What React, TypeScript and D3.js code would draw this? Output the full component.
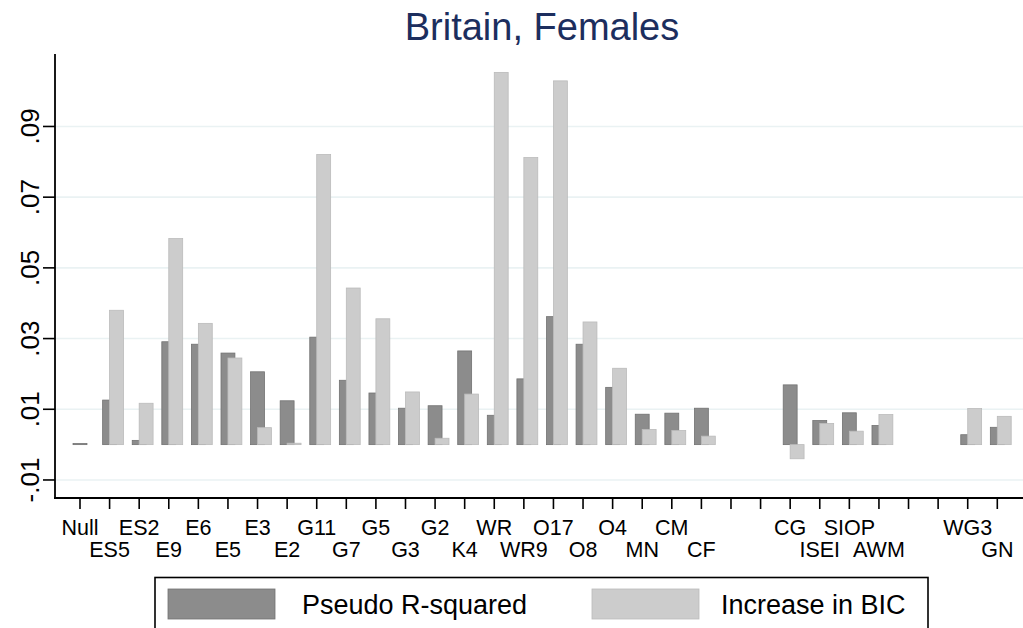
import React, { useRef, useEffect } from 'react';
import * as d3 from 'd3';

// model labels along the x axis ('' = empty slot)
const categories = [
  'Null', 'ES5', 'ES2', 'E9', 'E6', 'E5', 'E3', 'E2', 'G11', 'G7', 'G5', 'G3', 'G2', 'K4',
  'WR', 'WR9', 'O17', 'O8', 'O4', 'MN', 'CM', 'CF', '', '', 'CG', 'ISEI', 'SIOP', 'AWM',
  '', '', 'WG3', 'GN',
];

const pseudoR2: (number | null)[] = [
  0.0003, 0.0126, 0.0012, 0.0291, 0.0284, 0.0259, 0.0206, 0.0124, 0.0304, 0.0182, 0.0146,
  0.0103, 0.0110, 0.0265, 0.0083, 0.0186, 0.0362, 0.0284, 0.0162, 0.0086, 0.0089, 0.0103,
  null, null, 0.0169, 0.0068, 0.0090, 0.0054, null, null, 0.0028, 0.0049,
];

const bicIncrease: (number | null)[] = [
  0, 0.0380, 0.0117, 0.0583, 0.0343, 0.0245, 0.0048, 0.0004, 0.0821, 0.0443, 0.0356,
  0.0149, 0.0018, 0.0143, 0.1053, 0.0812, 0.1029, 0.0347, 0.0216, 0.0043, 0.0040, 0.0024,
  null, null, -0.0040, 0.0060, 0.0038, 0.0085, null, null, 0.0102, 0.0080,
];

const yTicks = [-0.01, 0.01, 0.03, 0.05, 0.07, 0.09];
const yTickLabels = ['-.01', '.01', '.03', '.05', '.07', '.09'];

const seriesNames = ['Pseudo R-squared', 'Increase in BIC'];

const DARK = '#8c8c8c';
const DARK_EDGE = '#727272';
const LIGHT = '#cccccc';
const LIGHT_EDGE = '#bbbbbb';
const FONT = '"Liberation Sans", Arial, Helvetica, sans-serif';

const App: React.FC = () => {
  const svgRef = useRef<SVGSVGElement | null>(null);

  useEffect(() => {
    if (!svgRef.current) return;
    const width = 1023;
    const height = 628;
    const plot = { left: 55, right: 1023, top: 54, bottom: 498 };

    d3.select(svgRef.current).selectAll('*').remove();
    const svg = d3.select(svgRef.current).attr('width', width).attr('height', height);

    svg.append('rect').attr('width', width).attr('height', height).attr('fill', '#ffffff');

    const idx = categories.map((_, i) => String(i));
    const x = d3.scalePoint<string>().domain(idx).range([80, 997.3]);
    const y = d3.scaleLinear().domain([-0.0151, 0.1105]).range([plot.bottom, plot.top]);
    const bw = x.step() * 0.47;

    // Title
    svg.append('text')
      .attr('x', 542)
      .attr('y', 40)
      .attr('text-anchor', 'middle')
      .attr('font-family', FONT)
      .attr('font-size', '38px')
      .attr('fill', '#1c2e5e')
      .text('Britain, Females');

    // Grid lines
    svg.append('g')
      .selectAll('line')
      .data(yTicks)
      .enter()
      .append('line')
      .attr('x1', plot.left)
      .attr('x2', plot.right)
      .attr('y1', d => y(d))
      .attr('y2', d => y(d))
      .attr('stroke', '#eaf2f3')
      .attr('stroke-width', 1.6);

    const rows = categories.map((c, i) => ({ c, i, r: pseudoR2[i], b: bicIncrease[i] }));

    // Pseudo R-squared bars (centred on tick)
    svg.append('g')
      .selectAll('rect')
      .data(rows.filter(d => d.r !== null))
      .enter()
      .append('rect')
      .attr('x', d => (x(String(d.i)) || 0) - bw / 2)
      .attr('width', bw)
      .attr('y', d => y(Math.max(0, d.r as number)))
      .attr('height', d => Math.max(0.8, Math.abs(y(d.r as number) - y(0))))
      .attr('fill', DARK)
      .attr('stroke', DARK_EDGE)
      .attr('stroke-width', 0.8);

    // Increase in BIC bars (shifted half a bar right, overlapping)
    svg.append('g')
      .selectAll('rect')
      .data(rows.filter(d => d.b !== null && d.b !== 0))
      .enter()
      .append('rect')
      .attr('x', d => x(String(d.i)) || 0)
      .attr('width', bw)
      .attr('y', d => y(Math.max(0, d.b as number)))
      .attr('height', d => Math.max(0.8, Math.abs(y(d.b as number) - y(0))))
      .attr('fill', LIGHT)
      .attr('stroke', LIGHT_EDGE)
      .attr('stroke-width', 0.8);

    // Y axis
    const yAxis = svg.append('g');
    yAxis.append('line')
      .attr('x1', plot.left).attr('x2', plot.left)
      .attr('y1', plot.top).attr('y2', plot.bottom)
      .attr('stroke', '#000').attr('stroke-width', 1.8);
    yTicks.forEach((t, i) => {
      yAxis.append('line')
        .attr('x1', plot.left - 12).attr('x2', plot.left)
        .attr('y1', y(t)).attr('y2', y(t))
        .attr('stroke', '#000').attr('stroke-width', 1.6);
      yAxis.append('text')
        .attr('transform', `translate(39,${y(t)}) rotate(-90)`)
        .attr('text-anchor', 'middle')
        .attr('font-family', FONT)
        .attr('font-size', '26px')
        .attr('fill', '#000')
        .text(yTickLabels[i]);
    });

    // X axis
    const xAxis = svg.append('g');
    xAxis.append('line')
      .attr('x1', plot.left - 1).attr('x2', plot.right)
      .attr('y1', plot.bottom).attr('y2', plot.bottom)
      .attr('stroke', '#000').attr('stroke-width', 1.8);
    categories.forEach((c, i) => {
      const xp = x(String(i)) || 0;
      xAxis.append('line')
        .attr('x1', xp).attr('x2', xp)
        .attr('y1', plot.bottom).attr('y2', plot.bottom + 11)
        .attr('stroke', '#000').attr('stroke-width', 1.6);
      if (c) {
        xAxis.append('text')
          .attr('x', xp)
          .attr('y', i % 2 === 0 ? 535 : 556.5)
          .attr('text-anchor', 'middle')
          .attr('font-family', FONT)
          .attr('font-size', '21.5px')
          .attr('fill', '#000')
          .text(c);
      }
    });

    // Legend
    const legend = svg.append('g');
    legend.append('rect')
      .attr('x', 155).attr('y', 577.5)
      .attr('width', 773).attr('height', 70)
      .attr('fill', '#fff').attr('stroke', '#000').attr('stroke-width', 1.6);
    const keys = [
      { name: seriesNames[0], fill: DARK, edge: DARK_EDGE, sx: 168, tx: 302 },
      { name: seriesNames[1], fill: LIGHT, edge: LIGHT_EDGE, sx: 592, tx: 721 },
    ];
    keys.forEach(k => {
      legend.append('rect')
        .attr('x', k.sx).attr('y', 589)
        .attr('width', 107).attr('height', 30)
        .attr('fill', k.fill).attr('stroke', k.edge).attr('stroke-width', 0.8);
      legend.append('text')
        .attr('x', k.tx).attr('y', 614)
        .attr('font-family', FONT)
        .attr('font-size', '27px')
        .attr('fill', '#000')
        .text(k.name);
    });
  }, []);

  return (
    <svg
      ref={svgRef}
      style={{ position: 'absolute', left: 0, top: 0, display: 'block' }}
    />
  );
};

export default App;
